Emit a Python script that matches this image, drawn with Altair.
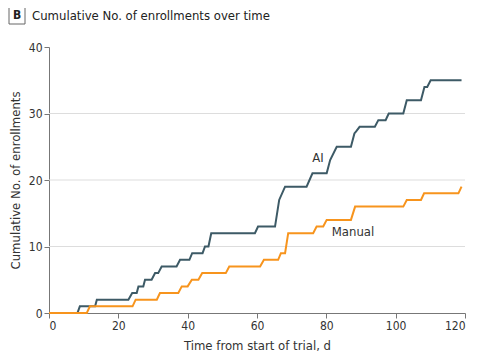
import altair as alt
import pandas as pd

# Vertices of the cumulative curves (day, count)
ai_days = [0, 8.2, 8.9, 13.3, 13.8, 22.9, 24.0, 25.3, 25.8, 27.2, 27.7, 29.6, 30.6, 31.5, 32.5,
           36.8, 37.8, 40.5, 41.3, 44.3, 45.0, 46.0, 46.8, 59.4, 60.3, 65.2, 66.4, 68.1, 74.3,
           76.0, 80.1, 81.1, 83.0, 87.1, 88.1, 88.6, 89.6, 94.0, 95.0, 97.1, 98.0, 102.2, 103.2,
           107.3, 108.3, 109.1, 110.1, 119.0]
ai_counts = [0, 0, 1, 1, 2, 2, 3, 3, 4, 4, 5, 5, 6, 6, 7,
             7, 8, 8, 9, 9, 10, 10, 12, 12, 13, 13, 17, 19, 19,
             21, 21, 23, 25, 25, 27, 27.3, 28, 28, 29, 29, 30, 30, 32,
             32, 34, 34, 35, 35]

manual_days = [0, 10.9, 11.8, 24.1, 25.0, 31.1, 32.0, 37.3, 38.3, 40.0, 41.2, 43.1, 44.2, 51.0,
               52.0, 60.9, 62.0, 66.1, 66.9, 68.1, 69.0, 76.2, 77.2, 79.1, 80.1, 87.1, 88.3,
               102.2, 103.2, 107.3, 108.2, 118.1, 119.0]
manual_counts = [0, 0, 1, 1, 2, 2, 3, 3, 4, 4, 5, 5, 6, 6,
                 7, 7, 8, 8, 9, 9, 12, 12, 13, 13, 14, 14, 16,
                 16, 17, 17, 18, 18, 19]

group_names = ["AI", "Manual"]
group_colors = ["#3d5a66", "#f7941d"]
label_days = [77.6, 87.7]
label_counts = [23.3, 12.2]

x_ticks = [0, 20, 40, 60, 80, 100, 120]
y_ticks = [0, 10, 20, 30, 40]
grid_values = [10, 20, 30]

panel_letter = "B"
panel_title = "Cumulative No. of enrollments over time"
x_title = "Time from start of trial, d"
y_title = "Cumulative No. of enrollments"

FONT = "DejaVu Sans Condensed, Lato, sans-serif"

rows = []
for i, (d, c) in enumerate(zip(ai_days, ai_counts)):
    rows.append({"day": d, "count": c, "group": "AI", "i": i})
for i, (d, c) in enumerate(zip(manual_days, manual_counts)):
    rows.append({"day": d, "count": c, "group": "Manual", "i": i})
df = pd.DataFrame(rows)

labels = pd.DataFrame({"day": label_days, "count": label_counts, "group": group_names})
grid_df = pd.DataFrame({"g": grid_values})

xscale = alt.Scale(domain=[0, 120], nice=False)
yscale = alt.Scale(domain=[0, 40], nice=False)
cscale = alt.Scale(domain=group_names, range=group_colors)

y_axis = alt.Axis(values=y_ticks, title=y_title, grid=False, format="d")
x_axis = alt.Axis(values=x_ticks, title=x_title, grid=False, format="d")

grid = alt.Chart(grid_df).mark_rule(color="#dddddd", strokeWidth=1).encode(
    y=alt.Y("g:Q", scale=yscale, axis=y_axis)
)

lines = alt.Chart(df).mark_line(strokeWidth=2, clip=False).encode(
    x=alt.X("day:Q", scale=xscale, axis=x_axis),
    y=alt.Y("count:Q", scale=yscale, axis=y_axis),
    color=alt.Color("group:N", scale=cscale, legend=None),
    detail="group:N",
    order="i:Q",
)

text = alt.Chart(labels).mark_text(fontSize=13, color="#333333", font=FONT).encode(
    x=alt.X("day:Q", scale=xscale),
    y=alt.Y("count:Q", scale=yscale),
    text="group:N",
)

box = alt.Chart(pd.DataFrame({"a": [0]})).mark_rect(
    fill="white", stroke="#666666", strokeWidth=1
).encode(x=alt.value(-40), x2=alt.value(-24), y=alt.value(-41), y2=alt.value(-23))

letter = alt.Chart(pd.DataFrame({"t": [panel_letter]})).mark_text(
    fontSize=12, fontWeight="bold", color="#222222", font=FONT, align="center", baseline="middle"
).encode(x=alt.value(-32), y=alt.value(-32), text="t:N")

title = alt.Chart(pd.DataFrame({"t": [panel_title]})).mark_text(
    fontSize=13, color="#222222", font=FONT, align="left", baseline="middle"
).encode(x=alt.value(-17), y=alt.value(-31), text="t:N")

chart = alt.layer(grid, lines, text, box, letter, title).properties(
    width=416, height=266,
    autosize=alt.AutoSizeParams(type="none"),
    padding={"left": 41, "top": 39, "right": 20, "bottom": 40},
).configure_view(stroke=None).configure_axis(
    labelFont=FONT, titleFont=FONT, labelFontSize=12, titleFontSize=13,
    labelColor="#333333", titleColor="#333333", titleFontWeight="normal",
    domainColor="#777777", tickColor="#777777", tickSize=5,
    gridColor="#dddddd",
).configure_axisY(titlePadding=6, domain=True).configure_axisX(titlePadding=8)

chart.save("out.html", embed_options={"renderer": "svg", "actions": False})
